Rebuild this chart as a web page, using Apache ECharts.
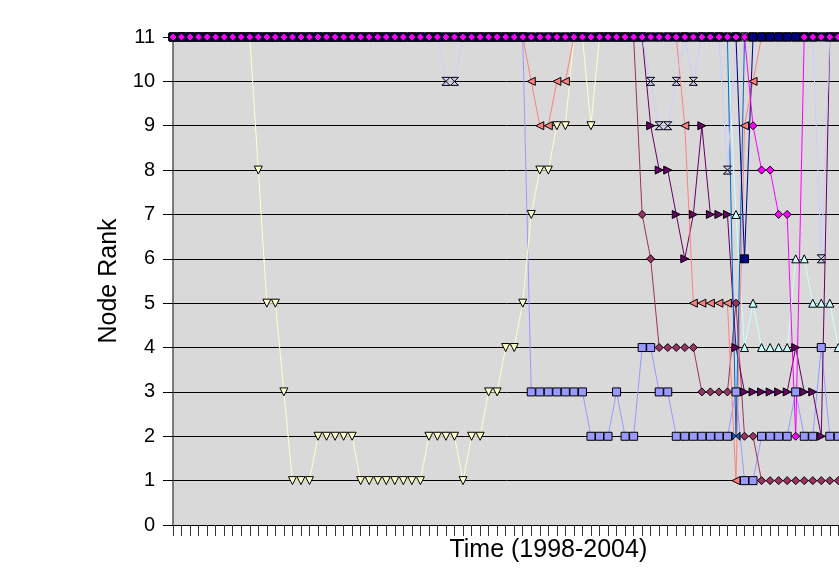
<!DOCTYPE html>
<html><head><meta charset="utf-8">
<script src="https://cdn.jsdelivr.net/npm/echarts/dist/echarts.min.js"></script>
<style>html,body{margin:0;padding:0;background:#fff}#c{width:839px;height:571px}</style>
</head><body><div id="c"></div><script>
// 89 time periods (1998-2004); only the first 79 are visible in the cropped picture
const periods = Array.from({length: 89}, (_, k) => 'T' + (k + 1));
const rankTicks = [0, 1, 2, 3, 4, 5, 6, 7, 8, 9, 10, 11];

// series values (rank per period, 11 = outside top 10)
const nodeA = [11,11,11,11,11,11,11,11,11,11, 8,5,5,3,1,1,1,2,2,2, 2,2,1,1,1,1,1,1,1,1, 2,2,2,2,1,2,2,3,3,4, 4,5,7,8,8,9,9,11,11,9, 11,11,11,11,11,11,11,11,11,11, 11,11,11,11,11,11,11,11,11,11, 11,11,11,11,11,11,11,11,11];
const nodeB = [11,11,11,11,11,11,11,11,11,11, 11,11,11,11,11,11,11,11,11,11, 11,11,11,11,11,11,11,11,11,11, 11,11,10,10,11,11,11,11,11,11, 11,11,11,11,11,11,11,11,11,11, 11,11,11,11,11,11,10,9,9,10, 11,10,11,11,11,8,11,11,11,11, 11,11,11,11,11,11,6,11,11];
const nodeC = [11,11,11,11,11,11,11,11,11,11, 11,11,11,11,11,11,11,11,11,11, 11,11,11,11,11,11,11,11,11,11, 11,11,11,11,11,11,11,11,11,11, 11,11,10,9,9,10,10,11,11,11, 11,11,11,11,11,11,11,11,11,11, 9,5,5,5,5,5,1,9,10,11, 11,11,11,11,11,11,11,11,11];
const nodeD = [11,11,11,11,11,11,11,11,11,11, 11,11,11,11,11,11,11,11,11,11, 11,11,11,11,11,11,11,11,11,11, 11,11,11,11,11,11,11,11,11,11, 11,11,3,3,3,3,3,3,3,2, 2,2,3,2,2,4,4,3,3,2, 2,2,2,2,2,2,3,1,1,2, 2,2,2,3,2,2,4,2,2];
const nodeE = [11,11,11,11,11,11,11,11,11,11, 11,11,11,11,11,11,11,11,11,11, 11,11,11,11,11,11,11,11,11,11, 11,11,11,11,11,11,11,11,11,11, 11,11,11,11,11,11,11,11,11,11, 11,11,11,11,11,11,9,8,8,7, 6,7,9,7,7,7,4,3,3,3, 3,3,3,4,3,3,2,11,11];
const nodeF = [11,11,11,11,11,11,11,11,11,11, 11,11,11,11,11,11,11,11,11,11, 11,11,11,11,11,11,11,11,11,11, 11,11,11,11,11,11,11,11,11,11, 11,11,11,11,11,11,11,11,11,11, 11,11,11,11,11,7,6,4,4,4, 4,4,3,3,3,3,5,2,2,1, 1,1,1,1,1,1,1,1,1];
const nodeG = [11,11,11,11,11,11,11,11,11,11, 11,11,11,11,11,11,11,11,11,11, 11,11,11,11,11,11,11,11,11,11, 11,11,11,11,11,11,11,11,11,11, 11,11,11,11,11,11,11,11,11,11, 11,11,11,11,11,11,11,11,11,11, 11,11,11,11,11,11,7,4,5,4, 4,4,4,6,6,5,5,5,4];
const nodeJ = [11,11,11,11,11,11,11,11,11,11, 11,11,11,11,11,11,11,11,11,11, 11,11,11,11,11,11,11,11,11,11, 11,11,11,11,11,11,11,11,11,11, 11,11,11,11,11,11,11,11,11,11, 11,11,11,11,11,11,11,11,11,11, 11,11,11,11,11,11,2,11,11,11, 11,11,11,11,11,11,11,11,11];
const nodeI = [11,11,11,11,11,11,11,11,11,11, 11,11,11,11,11,11,11,11,11,11, 11,11,11,11,11,11,11,11,11,11, 11,11,11,11,11,11,11,11,11,11, 11,11,11,11,11,11,11,11,11,11, 11,11,11,11,11,11,11,11,11,11, 11,11,11,11,11,11,11,6,11,11, 11,11,11,11,11,11,11,11,11];
const nodeH = [11,11,11,11,11,11,11,11,11,11, 11,11,11,11,11,11,11,11,11,11, 11,11,11,11,11,11,11,11,11,11, 11,11,11,11,11,11,11,11,11,11, 11,11,11,11,11,11,11,11,11,11, 11,11,11,11,11,11,11,11,11,11, 11,11,11,11,11,11,11,11,9,8, 8,7,7,2,11,11,11,11,11];

const HOURGLASS = 'path://M0,0L10,0L5,5L10,10L0,10L5,5Z';
function mk(name, data, color, symbol, rotate, lineColor) {
  return {
    name: name, type: 'line', data: data, symbol: symbol, symbolSize: 8,
    symbolRotate: rotate || 0, showAllSymbol: true, clip: false, silent: true,
    lineStyle: {color: lineColor || color, width: 1},
    itemStyle: {color: color, borderColor: '#000', borderWidth: 1},
    emphasis: {disabled: true}, animation: false
  };
}

const chart = echarts.init(document.getElementById('c'), null, {renderer: 'canvas'});
chart.setOption({
  animation: false,
  backgroundColor: '#ffffff',
  grid: {left: 173, top: 37, width: 88 * 8.53, height: 488, show: true, backgroundColor: '#D9D9D9', borderWidth: 0,
         containLabel: false, outerBoundsMode: 'none'},
  xAxis: {
    type: 'category', data: periods, boundaryGap: false,
    name: 'Time (1998-2004)', nameLocation: 'middle', nameGap: 13,
    nameTextStyle: {fontSize: 25, color: '#000', fontFamily: 'Liberation Sans'},
    axisLine: {show: true, lineStyle: {color: '#000', width: 1}},
    axisTick: {show: true, interval: 0, length: 11, lineStyle: {color: '#333'}},
    axisLabel: {show: false}, splitLine: {show: false}
  },
  yAxis: {
    type: 'value', min: rankTicks[0], max: rankTicks[rankTicks.length - 1], interval: 1,
    name: 'Node Rank', nameLocation: 'middle', nameGap: 51,
    nameTextStyle: {fontSize: 25, color: '#000', fontFamily: 'Liberation Sans'},
    axisLine: {show: true, lineStyle: {color: '#555', width: 1.5}},
    axisTick: {show: true, length: 10, lineStyle: {color: '#000'}},
    axisLabel: {fontSize: 20, color: '#000', margin: 18, fontFamily: 'Liberation Sans'},
    splitLine: {show: true, lineStyle: {color: '#000', width: 1}}
  },
  series: [
    mk('D', nodeD, '#9999FF', 'rect'),
    mk('F', nodeF, '#993366', 'diamond'),
    mk('A', nodeA, '#FFFFCC', 'triangle', 180),
    mk('G', nodeG, '#CCFFFF', 'triangle', 0),
    mk('E', nodeE, '#660066', 'triangle', -90),
    mk('C', nodeC, '#FF8080', 'triangle', 90),
    mk('J', nodeJ, '#0066CC', HOURGLASS, 90),
    mk('B', nodeB, '#CCCCFF', HOURGLASS, 0),
    mk('I', nodeI, '#000080', 'rect'),
    mk('H', nodeH, '#FF00FF', 'diamond')
  ]
});
</script></body></html>
